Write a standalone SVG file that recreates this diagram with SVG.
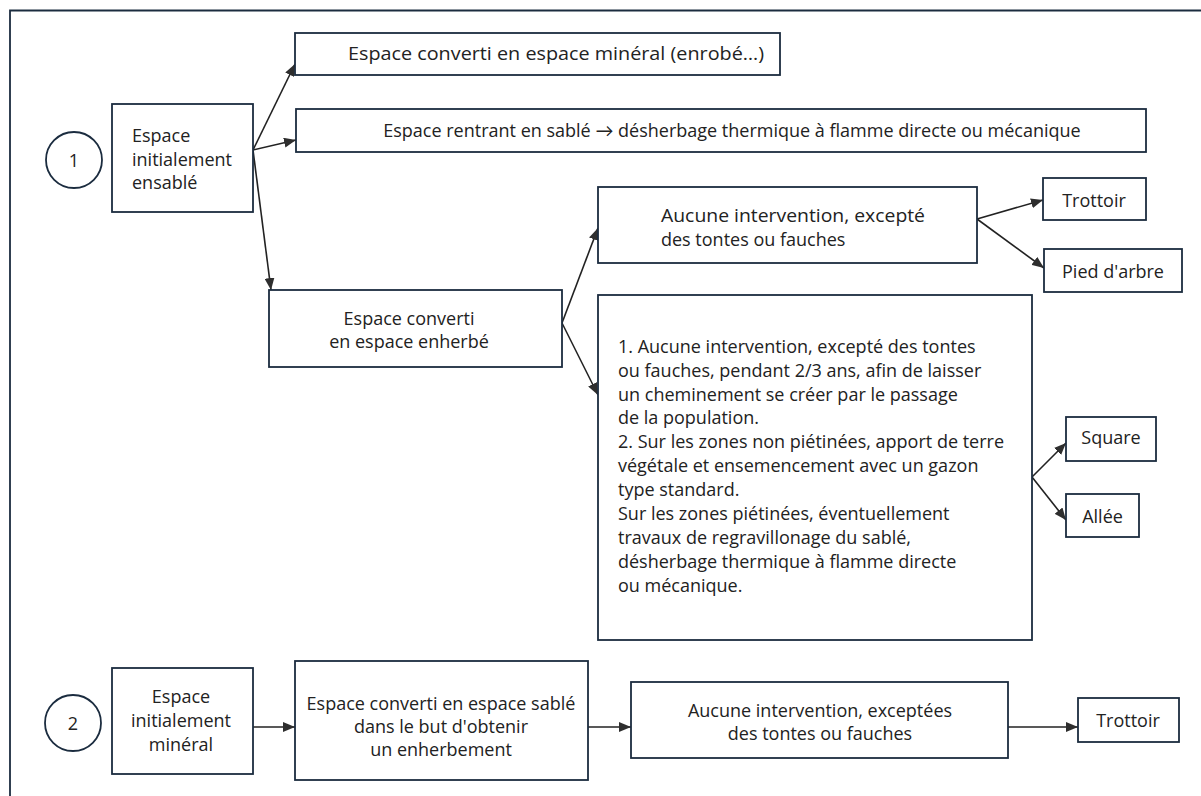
<svg xmlns="http://www.w3.org/2000/svg" width="1201" height="796" viewBox="0 0 1201 796">
<defs>
<marker id="ah" markerWidth="12" markerHeight="10" refX="12" refY="5" orient="auto" markerUnits="userSpaceOnUse">
<path d="M0,0 L12,5 L0,10 z" fill="#2e2e2e"/>
</marker>
<style>
.box{fill:#fff;stroke:#1b2c3f;stroke-width:1.8}
.t{font-family:"Open Sans",Lato,"Liberation Sans",sans-serif;font-size:18px;fill:#222}
.m{text-anchor:middle}
.c{stroke:#222;stroke-width:1.6;fill:none;marker-end:url(#ah)}
</style>
</defs>
<rect width="1201" height="796" fill="#fff"/>
<path d="M10,796 V10.5 H1201" fill="none" stroke="#1b2c3f" stroke-width="1.8"/>
<g id="connectors">
<line class="c" x1="253" y1="150" x2="295" y2="64"/>
<line class="c" x1="253" y1="150" x2="296" y2="140"/>
<line class="c" x1="253" y1="150" x2="271" y2="290"/>
<line class="c" x1="562" y1="323" x2="598" y2="228"/>
<line class="c" x1="562" y1="323" x2="598" y2="395"/>
<line class="c" x1="977" y1="219" x2="1043" y2="200"/>
<line class="c" x1="977" y1="219" x2="1044" y2="268"/>
<line class="c" x1="1032" y1="477" x2="1066" y2="443"/>
<line class="c" x1="1032" y1="477" x2="1066" y2="520"/>
<line class="c" x1="253" y1="727" x2="295" y2="727"/>
<line class="c" x1="588" y1="727" x2="631" y2="727"/>
<line class="c" x1="1008" y1="727" x2="1078" y2="727"/>
</g>
<g id="n1">
<circle class="box" cx="74" cy="160" r="28"/>
<text class="t m" x="74" y="167">1</text>
</g>
<g id="ensable">
<rect class="box" x="112" y="104" width="141" height="108"/>
<text class="t" x="132" y="142">Espace</text>
<text class="t" x="132" y="165.5">initialement</text>
<text class="t" x="132" y="189">ensablé</text>
</g>
<g id="mineral-enrobe">
<rect class="box" x="295" y="33" width="485" height="42"/>
<text class="t" x="348" y="60" textLength="416" lengthAdjust="spacingAndGlyphs">Espace converti en espace minéral (enrobé…)</text>
</g>
<g id="rentrant">
<rect class="box" x="296" y="109" width="850" height="43"/>
<text class="t m" x="732" y="137">Espace rentrant en sablé → désherbage thermique à flamme directe ou mécanique</text>
</g>
<g id="aucune1">
<rect class="box" x="598" y="187" width="379" height="76"/>
<text class="t" x="661" y="222" textLength="264" lengthAdjust="spacingAndGlyphs">Aucune intervention, excepté</text>
<text class="t" x="661" y="246">des tontes ou fauches</text>
</g>
<g id="trottoir1">
<rect class="box" x="1043" y="178" width="103" height="42"/>
<text class="t m" x="1094" y="207">Trottoir</text>
</g>
<g id="pied">
<rect class="box" x="1044" y="249" width="138" height="43"/>
<text class="t m" x="1113" y="278">Pied d'arbre</text>
</g>
<g id="enherbe">
<rect class="box" x="269" y="290" width="293" height="77"/>
<text class="t m" x="409" y="325">Espace converti</text>
<text class="t m" x="409" y="348">en espace enherbé</text>
</g>
<g id="detail">
<rect class="box" x="598" y="295" width="434" height="345"/>
<text class="t" x="618" y="353">1. Aucune intervention, excepté des tontes</text>
<text class="t" x="618" y="377">ou fauches, pendant 2/3 ans, afin de laisser</text>
<text class="t" x="618" y="401">un cheminement se créer par le passage</text>
<text class="t" x="618" y="424">de la population.</text>
<text class="t" x="618" y="448">2. Sur les zones non piétinées, apport de terre</text>
<text class="t" x="618" y="472">végétale et ensemencement avec un gazon</text>
<text class="t" x="618" y="496">type standard.</text>
<text class="t" x="618" y="520">Sur les zones piétinées, éventuellement</text>
<text class="t" x="618" y="544">travaux de regravillonage du sablé,</text>
<text class="t" x="618" y="568">désherbage thermique à flamme directe</text>
<text class="t" x="618" y="592">ou mécanique.</text>
</g>
<g id="square">
<rect class="box" x="1066" y="417" width="90" height="44"/>
<text class="t m" x="1111" y="444">Square</text>
</g>
<g id="allee">
<rect class="box" x="1066" y="494" width="73" height="43"/>
<text class="t m" x="1102.5" y="523">Allée</text>
</g>
<g id="n2">
<circle class="box" cx="73" cy="723" r="28"/>
<text class="t m" x="73" y="730">2</text>
</g>
<g id="mineral">
<rect class="box" x="112" y="668" width="141" height="106"/>
<text class="t m" x="181" y="703">Espace</text>
<text class="t m" x="181" y="727">initialement</text>
<text class="t m" x="181" y="751">minéral</text>
</g>
<g id="sable">
<rect class="box" x="295" y="661" width="293" height="119"/>
<text class="t m" x="441" y="710">Espace converti en espace sablé</text>
<text class="t m" x="441" y="733">dans le but d'obtenir</text>
<text class="t m" x="441" y="756">un enherbement</text>
</g>
<g id="aucune2">
<rect class="box" x="631" y="682" width="377" height="76"/>
<text class="t m" x="820" y="717">Aucune intervention, exceptées</text>
<text class="t m" x="820" y="740">des tontes ou fauches</text>
</g>
<g id="trottoir2">
<rect class="box" x="1078" y="698" width="101" height="44"/>
<text class="t m" x="1128" y="727">Trottoir</text>
</g>
</svg>
